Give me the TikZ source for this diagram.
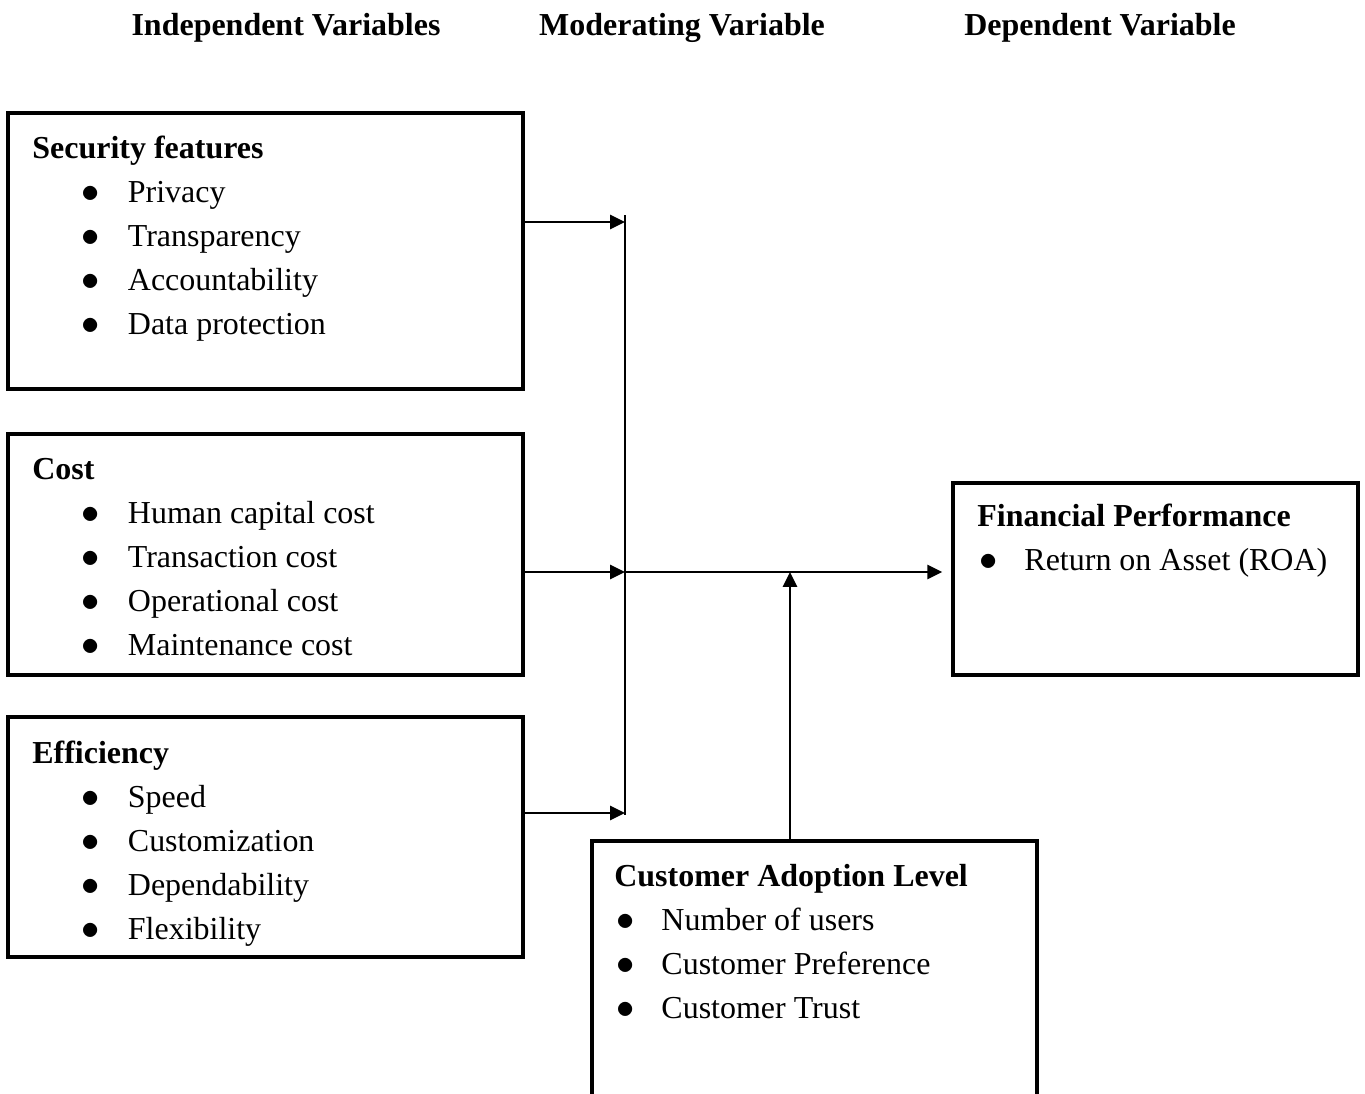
\documentclass[tikz,border=0pt]{standalone}
\usepackage{fontspec}
\setmainfont{Liberation Serif}
\usetikzlibrary{arrows.meta, positioning, fit}
\tikzset{
    box/.style={draw, rectangle, line width=2.3pt, inner sep=0pt},
    txt/.style={align=left, inner sep=0pt, font=\fontsize{18.2}{25}\selectfont},
    head/.style={inner sep=0pt, font=\fontsize{18.2}{25}\selectfont\bfseries},
    arrow/.style={-{Triangle[length=8.5pt, width=8pt]}, line width=1.4pt}
}
% bullet items
\newcommand{\blt}{{\fontsize{22}{25}\selectfont$\bullet$}}
\newcommand{\itm}[1]{\hspace*{28.2pt}\makebox[26.2pt][l]{\blt}#1}
\newcommand{\itmb}[1]{\hspace*{1pt}\makebox[25.8pt][l]{\blt}#1}

\begin{document}
\begin{tikzpicture}[x=0.02cm, y=-0.02cm]
    \useasboundingbox (0,0) rectangle (1365,1093);

    % ============================================================
    % Column headings
    % ============================================================
    \node[head, anchor=base] (indep) at (286,35) {Independent Variables};
    \node[head, anchor=base] (moder) at (682,35) {Moderating Variable};
    \node[head, anchor=base] (depen) at (1100,35) {Dependent Variable};

    % ============================================================
    % Independent variables (left column), placed by last baseline
    % ============================================================
    \node[box, fit={(8,113)(523,389)}] (sec) {};
    \node[txt, anchor=base west] (sec_txt) at (32,334) {\textbf{Security features}\\
        \itm{Privacy}\\ \itm{Transparency}\\ \itm{Accountability}\\ \itm{Data protection}};

    \node[box, fit={(8,434)(523,675)}] (cost) {};
    \node[txt, anchor=base west] (cost_txt) at (32,655) {\textbf{Cost}\\
        \itm{Human capital cost}\\ \itm{Transaction cost}\\ \itm{Operational cost}\\ \itm{Maintenance cost}};

    \node[box, fit={(8,717)(523,957)}] (eff) {};
    \node[txt, anchor=base west] (eff_txt) at (32,939) {\textbf{Efficiency}\\
        \itm{Speed}\\ \itm{Customization}\\ \itm{Dependability}\\ \itm{Flexibility}};

    % ============================================================
    % Dependent and moderating variables
    % ============================================================
    \node[box, fit={(953,483)(1358,675)}] (fin) {};
    \node[txt, anchor=base west] (fin_txt) at (977,570) {\textbf{Financial Performance}\\
        \itmb{Return on Asset (ROA)}};

    % bottom edge runs past the page, as in the source
    \node[box, fit={(592,841)(1037,1100)}] (cust) {};
    \node[txt, anchor=base west] (cust_txt) at (614,1018) {\textbf{Customer Adoption Level}\\
        \itmb{Number of users}\\ \itmb{Customer Preference}\\ \itmb{Customer Trust}};

    % ============================================================
    % Connections
    % ============================================================
    \coordinate (j_top) at (625,215);
    \coordinate (j_bot) at (625,815);
    \coordinate (j1) at (625,222);
    \coordinate (j2) at (625,572);
    \coordinate (j3) at (625,813);
    \coordinate (mod) at (790,572);

    \draw[line width=1.1pt] (j_top) -- (j_bot);
    \draw[arrow] (j1 -| sec.east) -- (j1);
    \draw[arrow] (j2 -| cost.east) -- (j2);
    \draw[arrow] (j3 -| eff.east) -- (j3);
    \draw[arrow, shorten >=5pt] (j2) -- (j2 -| fin.west);
    \draw[arrow] (mod |- cust.north) -- (mod);

\end{tikzpicture}
\end{document}
